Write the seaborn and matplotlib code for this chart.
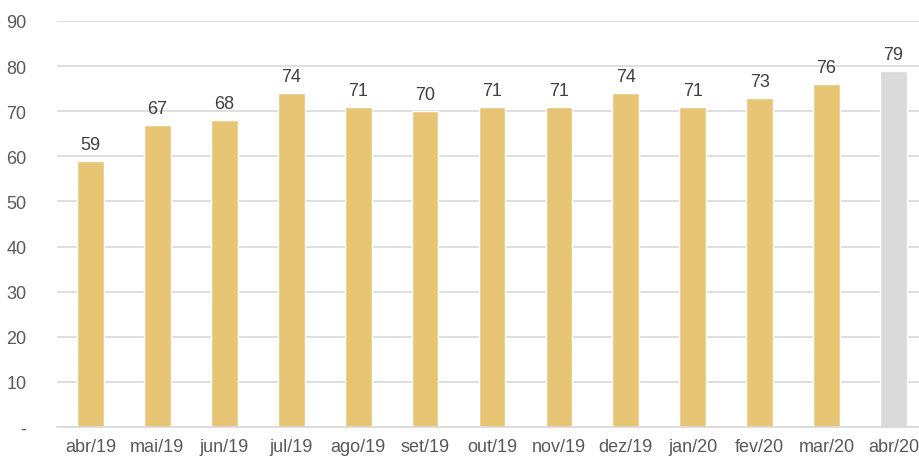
import pandas as pd
import numpy as np
import matplotlib
matplotlib.use('Agg')
import matplotlib.pyplot as plt
import seaborn as sns

months = ['abr/19', 'mai/19', 'jun/19', 'jul/19', 'ago/19', 'set/19', 'out/19',
          'nov/19', 'dez/19', 'jan/20', 'fev/20', 'mar/20', 'abr/20']
values = [59, 67, 68, 74, 71, 70, 71, 71, 74, 71, 73, 76, 79]
kind = ['real'] * 12 + ['proj']
palette = {'real': '#E8C574', 'proj': '#DADADA'}

df = pd.DataFrame({'mes': months, 'valor': values, 'tipo': kind})

sns.set_style('white')
plt.rcParams['font.family'] = ['Liberation Sans', 'DejaVu Sans']

fig = plt.figure(figsize=(9.2, 4.6), dpi=100)
ax = fig.add_axes([57 / 920, 32 / 460, 870 / 920, 406 / 460])

sns.barplot(data=df, x='mes', y='valor', hue='tipo', palette=palette,
            dodge=False, width=0.4, legend=False, ax=ax, saturation=1)

ax.set_ylim(0, 90)
ax.set_xlim(-0.5, 12.5)
ax.set_yticks(range(0, 91, 10))
ax.set_yticklabels(['-'] + [str(v) for v in range(10, 91, 10)])
ax.yaxis.grid(True, color='#D9D9D9', linewidth=1.2)
ax.set_axisbelow(True)
for s in ['top', 'right', 'left']:
    ax.spines[s].set_visible(False)
ax.spines['bottom'].set_color('#D9D9D9')
ax.spines['bottom'].set_linewidth(1.2)
ax.tick_params(axis='both', length=0, labelsize=13, colors='#595959')
ax.tick_params(axis='y', pad=22)
ax.tick_params(axis='x', pad=8)
ax.set_xlabel('')
ax.set_ylabel('')

for i, v in enumerate(values):
    ax.text(i, v + 1.8, str(v), ha='center', va='bottom', fontsize=13, color='#404040')

fig.savefig('out.png', dpi=100)
